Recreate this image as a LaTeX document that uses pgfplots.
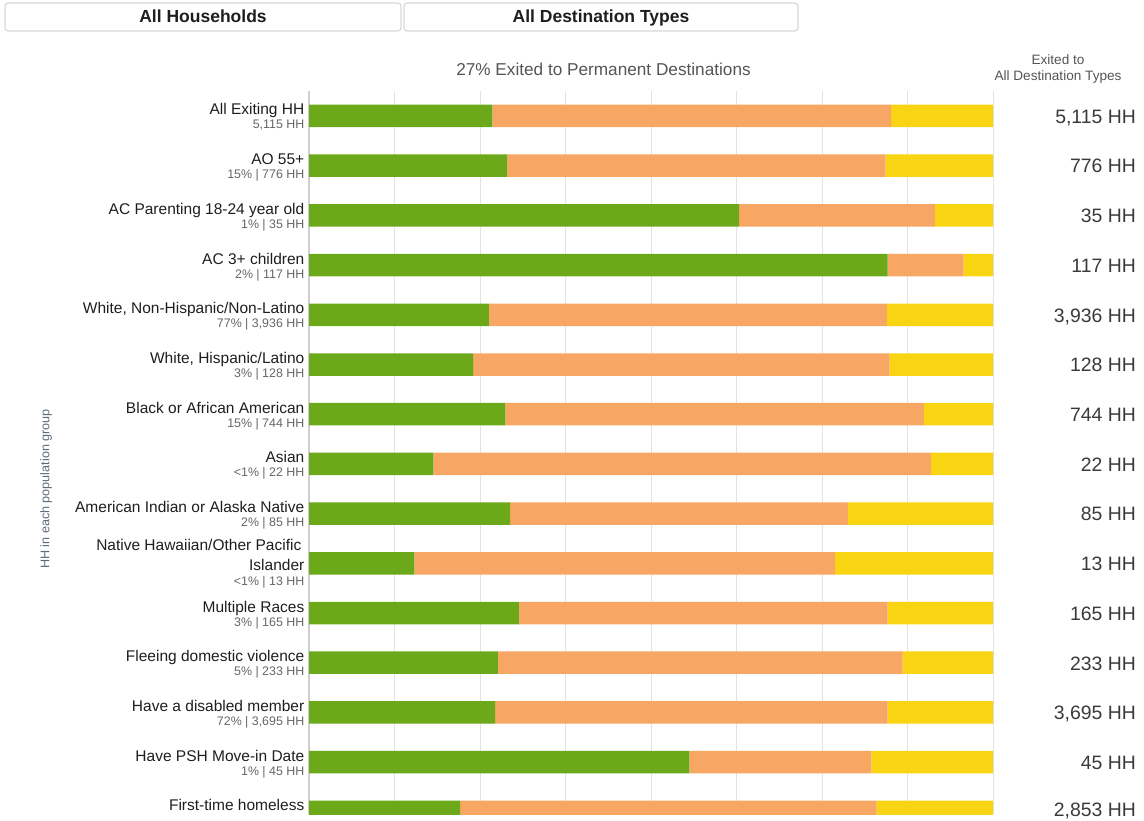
\documentclass[border=0pt]{standalone}
\usepackage{pgfplots}
\pgfplotsset{compat=1.18}
\usepackage{pgfplotstable}
\usepackage{fontspec}
\setmainfont{Liberation Sans}
\definecolor{cg}{HTML}{6BA91A}
\definecolor{co}{HTML}{F8A663}
\definecolor{cy}{HTML}{F9D412}
\definecolor{gridc}{HTML}{E3E3E3}
\definecolor{axc}{HTML}{CFCFCF}
\definecolor{labc}{HTML}{1E1E1E}
\definecolor{subc}{HTML}{666666}
\definecolor{valc}{HTML}{3A3A3A}
\definecolor{titc}{HTML}{555555}
\definecolor{ylc}{HTML}{5F6B7A}
\definecolor{btnc}{HTML}{D8D8D8}

\pgfplotstableread{
y g o w
0 26.8 58.3 14.9
-1 29.0 55.3 15.7
-2 62.9 28.6 8.5
-3 84.6 11.1 4.3
-4 26.3 58.2 15.5
-5 24.0 60.9 15.1
-6 28.7 61.2 10.1
-7 18.2 72.7 9.1
-8 29.4 49.4 21.2
-9 15.4 61.5 23.1
-10 30.7 53.9 15.4
-11 27.6 59.2 13.2
-12 27.2 57.4 15.4
-13 55.6 26.6 17.8
-14 22.1 60.9 17.0
}\data

\tikzset{
 lab/.style={anchor=base east, font=\fontsize{15.5}{18}\selectfont, text=labc, inner sep=0pt, xshift=-4.5pt, yshift=1pt},
 sub/.style={anchor=base east, font=\fontsize{12.4}{14}\selectfont, text=subc, inner sep=0pt, xshift=-4.5pt, yshift=-13pt},
 val/.style={anchor=base east, font=\fontsize{19.4}{22}\selectfont, text=valc, inner sep=0pt, xshift=143pt, yshift=-7.3pt},
}

\begin{document}
\begin{tikzpicture}
\useasboundingbox (0,0) rectangle (1144pt,820pt);
\clip (0,0) rectangle (1144pt,820pt);
% header buttons
\draw[btnc, line width=1.2pt, fill=white, rounded corners=3pt] (5pt,789pt) rectangle (401pt,817pt);
\draw[btnc, line width=1.2pt, fill=white, rounded corners=3pt] (404pt,789pt) rectangle (798pt,817pt);
\node[anchor=base, font=\fontsize{17.5}{20}\selectfont\bfseries, text=labc] at (203pt,797pt) {All Households};
\node[anchor=base, font=\fontsize{17.5}{20}\selectfont\bfseries, text=labc] at (601pt,797pt) {All Destination Types};
% title
\node[font=\fontsize{17.2}{20}\selectfont, text=titc] at (603.5pt,751pt) {27\% Exited to Permanent Destinations};
\node[font=\fontsize{13.6}{16}\selectfont, text=titc] at (1058pt,760pt) {Exited to};
\node[font=\fontsize{13.6}{16}\selectfont, text=titc] at (1058pt,743pt) {All Destination Types};
% y label
\node[font=\fontsize{12.6}{15}\selectfont, text=ylc, rotate=90] at (46pt,331pt) {HH in each population group};

\begin{axis}[
 at={(309pt,6pt)}, anchor=south west, width=684pt, height=723pt, scale only axis,
 xbar stacked, bar width=22.5pt,
 xmin=0, xmax=100, ymin=-14.044, ymax=0.503,
 xtick={12.5,25,37.5,50,62.5,75,87.5,100}, xticklabels={}, ytick=\empty,
 extra x ticks={0}, extra x tick labels={},
 extra x tick style={grid style={draw=axc, line width=1.6pt}},
 xmajorgrids, grid style={draw=gridc, line width=1pt},
 major tick length=0pt,
 axis line style={draw=none},
 clip mode=individual,
]
\addplot[fill=cg, draw=none] table[x=g, y=y] {\data};
\addplot[fill=co, draw=none] table[x=o, y=y] {\data};
\addplot[fill=cy, draw=none] table[x=w, y=y] {\data};

\node[lab] at (axis cs:0,0) {All Exiting HH};
\node[sub] at (axis cs:0,0) {5,115 HH};
\node[val] at (axis cs:100,0) {5,115 HH};

\node[lab] at (axis cs:0,-1) {AO 55+};
\node[sub] at (axis cs:0,-1) {15\% | 776 HH};
\node[val] at (axis cs:100,-1) {776 HH};

\node[lab] at (axis cs:0,-2) {AC Parenting 18-24 year old};
\node[sub] at (axis cs:0,-2) {1\% | 35 HH};
\node[val] at (axis cs:100,-2) {35 HH};

\node[lab] at (axis cs:0,-3) {AC 3+ children};
\node[sub] at (axis cs:0,-3) {2\% | 117 HH};
\node[val] at (axis cs:100,-3) {117 HH};

\node[lab] at (axis cs:0,-4) {White, Non-Hispanic/Non-Latino};
\node[sub] at (axis cs:0,-4) {77\% | 3,936 HH};
\node[val] at (axis cs:100,-4) {3,936 HH};

\node[lab] at (axis cs:0,-5) {White, Hispanic/Latino};
\node[sub] at (axis cs:0,-5) {3\% | 128 HH};
\node[val] at (axis cs:100,-5) {128 HH};

\node[lab] at (axis cs:0,-6) {Black or African American};
\node[sub] at (axis cs:0,-6) {15\% | 744 HH};
\node[val] at (axis cs:100,-6) {744 HH};

\node[lab] at (axis cs:0,-7) {Asian};
\node[sub] at (axis cs:0,-7) {<1\% | 22 HH};
\node[val] at (axis cs:100,-7) {22 HH};

\node[lab] at (axis cs:0,-8) {American Indian or Alaska Native};
\node[sub] at (axis cs:0,-8) {2\% | 85 HH};
\node[val] at (axis cs:100,-8) {85 HH};

\node[lab, yshift=12pt, xshift=-3pt] at (axis cs:0,-9) {Native Hawaiian/Other Pacific};
\node[lab, yshift=-8pt] at (axis cs:0,-9) {Islander};
\node[sub, yshift=-9pt] at (axis cs:0,-9) {<1\% | 13 HH};
\node[val] at (axis cs:100,-9) {13 HH};

\node[lab] at (axis cs:0,-10) {Multiple Races};
\node[sub] at (axis cs:0,-10) {3\% | 165 HH};
\node[val] at (axis cs:100,-10) {165 HH};

\node[lab] at (axis cs:0,-11) {Fleeing domestic violence};
\node[sub] at (axis cs:0,-11) {5\% | 233 HH};
\node[val] at (axis cs:100,-11) {233 HH};

\node[lab] at (axis cs:0,-12) {Have a disabled member};
\node[sub] at (axis cs:0,-12) {72\% | 3,695 HH};
\node[val] at (axis cs:100,-12) {3,695 HH};

\node[lab] at (axis cs:0,-13) {Have PSH Move-in Date};
\node[sub] at (axis cs:0,-13) {1\% | 45 HH};
\node[val] at (axis cs:100,-13) {45 HH};

\node[lab] at (axis cs:0,-14) {First-time homeless};
\node[val, yshift=2.5pt] at (axis cs:100,-14) {2,853 HH};
\end{axis}
\end{tikzpicture}
\end{document}
